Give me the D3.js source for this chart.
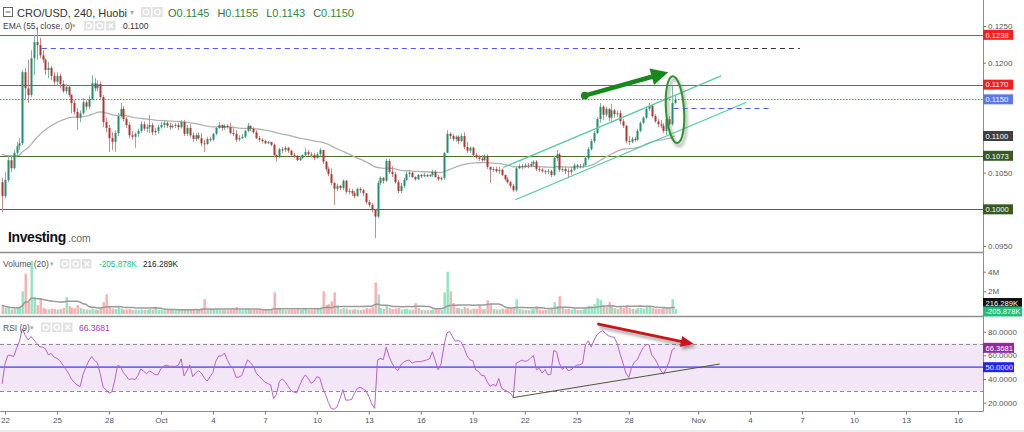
<!DOCTYPE html>
<html><head><meta charset="utf-8">
<script src="https://cdn.jsdelivr.net/npm/d3@7/dist/d3.min.js"></script>
<style>
html,body{margin:0;padding:0;background:#fff;}
svg{display:block;font-family:"Liberation Sans",Arial,sans-serif;}
</style></head><body>
<svg id="chart" width="1024" height="432"></svg>
<script>
// ================= DATA =================
const firstCandleUTC = "2020-09-21T20:00:00Z";
const candleHours = 4;
const firstOpen = 0.1037;
const closes = [0.1018,0.1040,0.1067,0.1056,0.1077,0.1086,0.1090,0.1187,0.1165,0.1156,
0.1206,0.1228,0.1224,0.1210,0.1204,0.1190,0.1193,0.1182,0.1174,0.1182,
0.1171,0.1161,0.1167,0.1156,0.1145,0.1133,0.1125,0.1131,0.1146,0.1140,
0.1150,0.1172,0.1165,0.1171,0.1153,0.1119,0.1111,0.1097,0.1092,0.1104,
0.1127,0.1137,0.1123,0.1115,0.1101,0.1099,0.1103,0.1107,0.1116,0.1110,
0.1112,0.1115,0.1105,0.1107,0.1112,0.1115,0.1118,0.1114,0.1112,0.1114,
0.1115,0.1112,0.1119,0.1103,0.1111,0.1101,0.1096,0.1101,0.1097,0.1090,
0.1089,0.1096,0.1095,0.1103,0.1111,0.1115,0.1111,0.1114,0.1112,0.1104,
0.1103,0.1095,0.1097,0.1099,0.1107,0.1114,0.1110,0.1105,0.1097,0.1095,
0.1093,0.1090,0.1092,0.1088,0.1074,0.1071,0.1082,0.1081,0.1084,0.1080,
0.1074,0.1073,0.1067,0.1070,0.1074,0.1078,0.1075,0.1074,0.1070,0.1075,
0.1081,0.1065,0.1055,0.1048,0.1036,0.1028,0.1032,0.1029,0.1039,0.1024,
0.1025,0.1022,0.1018,0.1028,0.1026,0.1022,0.1010,0.1006,0.0999,0.0990,
0.1036,0.1043,0.1039,0.1066,0.1051,0.1048,0.1037,0.1025,0.1032,0.1040,
0.1048,0.1050,0.1044,0.1041,0.1047,0.1045,0.1047,0.1045,0.1047,0.1051,
0.1044,0.1041,0.1043,0.1077,0.1103,0.1100,0.1096,0.1099,0.1093,0.1100,
0.1085,0.1080,0.1084,0.1074,0.1071,0.1069,0.1067,0.1073,0.1058,0.1054,
0.1055,0.1052,0.1054,0.1047,0.1041,0.1037,0.1032,0.1026,0.1056,0.1059,
0.1058,0.1060,0.1059,0.1062,0.1065,0.1055,0.1054,0.1052,0.1051,0.1052,
0.1047,0.1070,0.1075,0.1054,0.1055,0.1052,0.1051,0.1054,0.1060,0.1058,
0.1059,0.1060,0.1070,0.1082,0.1093,0.1104,0.1123,0.1140,0.1129,0.1137,
0.1125,0.1135,0.1130,0.1131,0.1120,0.1114,0.1093,0.1092,0.1096,0.1095,
0.1107,0.1118,0.1125,0.1137,0.1141,0.1127,0.1120,0.1116,0.1114,0.1107,
0.1123,0.1116,0.1145,0.1150];
const highs = [0.1043,0.1051,0.1074,0.1074,0.1081,0.1092,0.1097,0.1190,0.1193,0.1204,
0.1217,0.1238,0.1249,0.1234,0.1217,0.1206,0.1201,0.1195,0.1187,0.1187,
0.1185,0.1176,0.1171,0.1170,0.1157,0.1149,0.1138,0.1135,0.1152,0.1149,
0.1155,0.1183,0.1179,0.1176,0.1174,0.1156,0.1125,0.1115,0.1105,0.1108,
0.1131,0.1145,0.1141,0.1126,0.1119,0.1107,0.1105,0.1110,0.1120,0.1120,
0.1116,0.1129,0.1118,0.1111,0.1115,0.1119,0.1122,0.1120,0.1118,0.1116,
0.1118,0.1118,0.1122,0.1122,0.1115,0.1116,0.1105,0.1104,0.1105,0.1104,
0.1095,0.1099,0.1099,0.1104,0.1112,0.1119,0.1116,0.1116,0.1116,0.1118,
0.1111,0.1108,0.1101,0.1103,0.1108,0.1118,0.1114,0.1112,0.1108,0.1100,
0.1097,0.1095,0.1093,0.1092,0.1090,0.1075,0.1084,0.1085,0.1086,0.1085,
0.1081,0.1077,0.1074,0.1073,0.1075,0.1084,0.1081,0.1078,0.1077,0.1078,
0.1084,0.1081,0.1066,0.1058,0.1056,0.1037,0.1035,0.1033,0.1041,0.1040,
0.1029,0.1028,0.1025,0.1030,0.1030,0.1028,0.1022,0.1013,0.1009,0.1000,
0.1039,0.1045,0.1044,0.1069,0.1069,0.1059,0.1051,0.1040,0.1036,0.1043,
0.1051,0.1054,0.1051,0.1045,0.1048,0.1048,0.1050,0.1048,0.1048,0.1054,
0.1054,0.1047,0.1045,0.1078,0.1108,0.1105,0.1103,0.1101,0.1101,0.1103,
0.1105,0.1092,0.1086,0.1085,0.1077,0.1074,0.1074,0.1075,0.1075,0.1058,
0.1058,0.1058,0.1058,0.1056,0.1047,0.1044,0.1039,0.1035,0.1059,0.1062,
0.1062,0.1063,0.1063,0.1065,0.1067,0.1067,0.1058,0.1056,0.1054,0.1055,
0.1054,0.1073,0.1081,0.1077,0.1059,0.1058,0.1056,0.1058,0.1063,0.1062,
0.1062,0.1063,0.1073,0.1085,0.1096,0.1107,0.1126,0.1145,0.1142,0.1140,
0.1138,0.1144,0.1137,0.1135,0.1135,0.1123,0.1115,0.1100,0.1099,0.1099,
0.1110,0.1120,0.1127,0.1140,0.1145,0.1142,0.1130,0.1123,0.1122,0.1118,
0.1126,0.1127,0.1168,0.1155];
const lows = [0.0996,0.1015,0.1037,0.1051,0.1054,0.1073,0.1081,0.1088,0.1149,0.1145,
0.1153,0.1183,0.1204,0.1206,0.1200,0.1183,0.1179,0.1176,0.1170,0.1168,
0.1165,0.1159,0.1157,0.1153,0.1131,0.1129,0.1108,0.1119,0.1129,0.1135,
0.1137,0.1149,0.1161,0.1161,0.1149,0.1112,0.1105,0.1078,0.1081,0.1078,
0.1100,0.1125,0.1120,0.1111,0.1097,0.1095,0.1084,0.1099,0.1104,0.1107,
0.1105,0.1104,0.1101,0.1101,0.1103,0.1110,0.1111,0.1111,0.1108,0.1110,
0.1111,0.1108,0.1110,0.1100,0.1100,0.1099,0.1092,0.1093,0.1095,0.1086,
0.1078,0.1088,0.1092,0.1093,0.1101,0.1110,0.1107,0.1108,0.1110,0.1103,
0.1100,0.1092,0.1093,0.1096,0.1097,0.1105,0.1107,0.1103,0.1096,0.1092,
0.1090,0.1089,0.1089,0.1086,0.1071,0.1065,0.1070,0.1077,0.1078,0.1077,
0.1073,0.1070,0.1066,0.1066,0.1069,0.1071,0.1073,0.1071,0.1067,0.1069,
0.1073,0.1062,0.1052,0.1045,0.1033,0.1006,0.1025,0.1026,0.1026,0.1021,
0.1020,0.1018,0.1015,0.1017,0.1022,0.1018,0.1007,0.1003,0.0996,0.0961,
0.0988,0.1033,0.1035,0.1037,0.1048,0.1044,0.1035,0.1022,0.1022,0.1029,
0.1039,0.1044,0.1043,0.1039,0.1040,0.1043,0.1044,0.1044,0.1044,0.1044,
0.1043,0.1039,0.1039,0.1040,0.1077,0.1096,0.1093,0.1092,0.1089,0.1092,
0.1082,0.1077,0.1077,0.1071,0.1069,0.1066,0.1065,0.1066,0.1055,0.1036,
0.1051,0.1050,0.1048,0.1045,0.1039,0.1035,0.1029,0.1024,0.1024,0.1055,
0.1055,0.1056,0.1056,0.1058,0.1058,0.1052,0.1051,0.1050,0.1048,0.1048,
0.1044,0.1045,0.1066,0.1051,0.1051,0.1048,0.1043,0.1047,0.1052,0.1055,
0.1056,0.1056,0.1058,0.1067,0.1080,0.1090,0.1103,0.1118,0.1122,0.1126,
0.1120,0.1119,0.1125,0.1126,0.1116,0.1111,0.1090,0.1088,0.1090,0.1092,
0.1093,0.1105,0.1116,0.1123,0.1134,0.1125,0.1118,0.1112,0.1111,0.1104,
0.1101,0.1114,0.1114,0.1143];
const volumesK = [600,350,300,150,250,400,350,2000,3800,900,
5100,1400,600,1300,300,200,150,250,200,150,
200,300,1400,500,350,300,600,300,200,150,
150,250,150,100,300,900,1700,500,250,200,
350,250,150,150,200,100,150,100,150,100,
100,200,150,450,100,100,80,100,80,100,
80,100,150,200,100,150,200,150,100,300,
1200,200,150,150,200,100,80,100,80,150,
150,400,100,80,150,200,100,100,150,100,
80,100,80,150,1900,300,250,100,80,100,
150,100,200,100,150,200,100,100,150,200,
300,2000,600,700,1000,1900,600,200,300,250,
150,150,200,150,100,150,300,250,400,2900,
1700,300,200,500,300,200,250,300,150,200,
250,150,150,800,300,100,80,100,80,150,
200,150,100,1900,4000,2000,800,300,300,200,
400,300,150,250,200,600,150,200,1100,700,
200,150,150,250,200,250,300,400,1200,200,
150,100,100,150,200,500,150,100,100,150,
250,900,500,1500,300,200,250,150,200,100,
100,150,300,500,500,700,1300,1100,600,400,
900,600,300,200,400,300,600,300,200,150,
300,300,250,400,500,300,250,200,200,300,
400,300,1200,206];
const rsi9 = [36,53,60,60,59,66,72,82.5,77,73,
76,73,70,67.3,67,65.5,60.5,61.5,58.5,57.5,
55.5,52,48.5,44.7,40,37,35,33.5,43.8,50,
55.3,59,55.7,53.8,44,33,31,28,29,39,
51.5,50.5,45.5,42.5,39.5,40.3,39.4,42.8,48.5,46.7,
44.5,46.8,45.5,43.6,43.7,49,51,51.7,50.7,50.8,
50.7,51.6,57,42.6,47,52,42,45,47,45,
41,38.3,42,45.5,55,59.5,59.5,62,56,51.5,
48.8,41.5,41.7,43,50,56.2,53.8,50.8,45,42.5,
40,37.4,36.2,35,23.5,27,38,40,37.8,34,
30.3,29,28.2,34.5,40,43.5,40.5,36.3,38,42,
41,32.5,27,20,15,14.6,16.5,23.5,31,22.2,
22.2,22.7,28,32,33,31.8,30,25.2,19,15.2,
56.2,57.4,56.4,67,59,53.5,49.5,47,51.8,54.3,
55.5,56,53.4,54.5,54.7,54.7,55.5,56.1,57,63,
55.5,47.8,52.8,68,79,80,75.5,71.8,72.7,71,
66,59.5,56.2,55.5,47.7,46.4,43,42.8,37.5,33.8,
35.5,34,40.5,32,30.8,29.5,28,24.8,53.4,54.6,
56,55,55.5,57.8,60,47.8,49,45,48,43.5,
44,64,63,53,48,50.5,47,47.8,50,51.8,
52,53.3,69,72.3,67,73,77.5,79.6,80.9,78.5,
76.5,75.8,75,70,61,53.5,45,41.3,50,54.5,
56.5,62,66.5,69.3,69,60,57.3,52.5,47.6,44,
49,55,64.5,66.3681];
const emaSeed = 0.1077;      // EMA(55) value just before the first visible candle
const emaLast = 0.1100;      // EMA value shown in legend
const volumeLegend = ["-205.878K", "216.289K"];
const xTickDates = ["2020-09-22","2020-09-25","2020-09-28","2020-10-01","2020-10-04","2020-10-07","2020-10-10","2020-10-13","2020-10-16","2020-10-19","2020-10-22","2020-10-25","2020-10-28","2020-11-01","2020-11-04","2020-11-07","2020-11-10","2020-11-13","2020-11-16"];
const xTickLabels = ["22","25","28","Oct","4","7","10","13","16","19","22","25","28","Nov","4","7","10","13","16"];
const priceTicks = [0.095,0.100,0.105,0.110,0.115,0.120,0.125];
const volumeTicks = [2000,4000];
const rsiTicks = [20,40,60,80];
const levelPrices = [0.1238,0.1170,0.1150,0.1073,0.1000];
const levelKinds = ["red","red","blue","green","green"];
// drawings (time, value)
const targetDashed = [["2020-09-24T03:00:00Z",0.1220],["2020-10-26T08:00:00Z",0.1220],["2020-11-06T21:00:00Z",0.1220]];
const shortDashed = [["2020-10-30T14:00:00Z",0.1138],["2020-11-05T02:00:00Z",0.1138]];
const channelUpper = [["2020-10-20T18:00:00Z",0.1057],["2020-11-02T08:00:00Z",0.1182]];
const channelLower = [["2020-10-21T11:00:00Z",0.1013],["2020-11-03T19:00:00Z",0.1146]];
const trendArrow = [["2020-10-25T11:00:00Z",0.1155],["2020-10-30T06:30:00Z",0.1187]];
const ellipseCenter = ["2020-10-30T16:00:00Z",0.1136];
const rsiArrow = [["2020-10-26T06:00:00Z",86.5],["2020-10-31T18:00:00Z",69.6]];
const rsiTrend = [["2020-10-21T07:00:00Z",24.2],["2020-11-02T06:00:00Z",52.7]];

// ================= BUILD =================
const svg = d3.select("#chart");
const R = 983; // right edge of plots
const x = d3.scaleUtc().domain([new Date("2020-09-22T00:00:00Z"), new Date("2020-11-16T00:00:00Z")]).range([5, 958]);
const yP = d3.scaleLinear().domain([0.095, 0.125]).range([246, 26]);
const yV = d3.scaleLinear().domain([0, 4000]).range([311, 271.7]);
const yR = d3.scaleLinear().domain([20, 80]).range([402.7, 331.7]);
const T = s => new Date(s);

const t0 = Date.parse(firstCandleUTC);
const candles = closes.map((c, i) => ({
  t: new Date(t0 + i * candleHours * 3600e3),
  o: i ? closes[i - 1] : firstOpen, h: highs[i], l: lows[i], c, v: volumesK[i], r: rsi9[i]
}));
// EMA(55, close)
let e = emaSeed; const k = 2 / 56;
candles.forEach(d => { e = e + (d.c - e) * k; d.ema = e; });
// Volume MA(20)
candles.forEach((d, i) => { const s = candles.slice(Math.max(0, i - 19), i + 1); d.vma = d3.mean(s, q => q.v); });

const defs = svg.append("defs");
defs.append("filter").attr("id", "blur").attr("x", "-50%").attr("y", "-50%").attr("width", "200%").attr("height", "200%")
  .append("feGaussianBlur").attr("stdDeviation", 1.8);
[["clipP", 0, 0, R, 252], ["clipV", 0, 253, R, 63], ["clipR", 0, 317, R, 94]].forEach(([id, a, b, w, h]) =>
  defs.append("clipPath").attr("id", id).append("rect").attr("x", a).attr("y", b).attr("width", w).attr("height", h));

// ---------- PRICE PANEL ----------
const gP = svg.append("g").attr("clip-path", "url(#clipP)");
const levelColor = { red: "#e23a3a", blue: "#5d74e8", green: "#4c6e34" };
levelPrices.forEach((p, i) => {
  const y = Math.round(yP(p)) + 0.5;
  gP.append("line").attr("x1", 0).attr("x2", R).attr("y1", y).attr("y2", y)
    .attr("stroke", levelColor[levelKinds[i]]).attr("stroke-width", 1)
    .attr("stroke-dasharray", levelKinds[i] === "blue" ? "1.5,1.5" : null);
});
// dashed target line
const tdY = Math.round(yP(targetDashed[0][1])) + 0.5;
gP.append("line").attr("x1", x(T(targetDashed[0][0]))).attr("x2", x(T(targetDashed[1][0]))).attr("y1", tdY).attr("y2", tdY)
  .attr("stroke", "#4a5df0").attr("stroke-width", 1.2).attr("stroke-dasharray", "5,4");
gP.append("line").attr("x1", x(T(targetDashed[1][0]))).attr("x2", x(T(targetDashed[2][0]))).attr("y1", tdY).attr("y2", tdY)
  .attr("stroke", "#333").attr("stroke-width", 1).attr("stroke-dasharray", "5,4");

// EMA line
gP.append("path").datum(candles).attr("fill", "none").attr("stroke", "#b0b0b0").attr("stroke-width", 1.3)
  .attr("d", d3.line().x(d => x(d.t)).y(d => yP(d.ema)));

// Candles
const upC = "#21906a", dnC = "#b2362f", upW = "#80b7a4", dnW = "#bf8f8b";
const cg = gP.append("g");
candles.forEach(d => {
  const up = d.c >= d.o;
  const cx = Math.round(x(d.t));
  cg.append("line").attr("x1", cx + 0.5).attr("x2", cx + 0.5).attr("y1", yP(d.h)).attr("y2", yP(d.l))
    .attr("stroke", up ? upW : dnW).attr("stroke-width", 1);
  const top = yP(Math.max(d.o, d.c)), bot = yP(Math.min(d.o, d.c));
  cg.append("rect").attr("x", cx - 0.5).attr("width", 2).attr("y", top).attr("height", Math.max(1, bot - top))
    .attr("fill", up ? upC : dnC);
});

// channel
[channelUpper, channelLower].forEach(ln => {
  gP.append("line").attr("x1", x(T(ln[0][0]))).attr("y1", yP(ln[0][1])).attr("x2", x(T(ln[1][0]))).attr("y2", yP(ln[1][1]))
    .attr("stroke", "#52c9a8").attr("stroke-width", 1.2);
});
// short dashed
const sdY = Math.round(yP(shortDashed[0][1])) + 0.5;
gP.append("line").attr("x1", x(T(shortDashed[0][0]))).attr("x2", x(T(shortDashed[1][0]))).attr("y1", sdY).attr("y2", sdY)
  .attr("stroke", "#4a5df0").attr("stroke-width", 1.2).attr("stroke-dasharray", "5,4");

// ellipse with shadow
const ex = x(T(ellipseCenter[0])), ey = yP(ellipseCenter[1]);
gP.append("ellipse").attr("cx", ex + 2).attr("cy", ey + 3).attr("rx", 9).attr("ry", 33.5).attr("fill", "none")
  .attr("stroke", "#777").attr("stroke-width", 2.5).attr("opacity", 0.6).attr("filter", "url(#blur)")
  .attr("transform", `rotate(-4 ${ex + 2} ${ey + 3})`);
gP.append("ellipse").attr("cx", ex).attr("cy", ey).attr("rx", 9).attr("ry", 33.5).attr("fill", "none")
  .attr("stroke", "#2c952c").attr("stroke-width", 2).attr("transform", `rotate(-4 ${ex} ${ey})`);

// arrow helper
function arrow(g, x1, y1, x2, y2, color, w, hl, hw, dot, shadow) {
  const dx = x2 - x1, dy = y2 - y1, L = Math.hypot(dx, dy), ux = dx / L, uy = dy / L, px = -uy, py = ux;
  const bx = x2 - ux * hl, by = y2 - uy * hl;
  const draw = (gg, off, col, op, filt) => {
    const s = gg.append("g").attr("transform", `translate(${off[0]},${off[1]})`).attr("opacity", op);
    if (filt) s.attr("filter", filt);
    s.append("line").attr("x1", x1).attr("y1", y1).attr("x2", bx + ux * 1).attr("y2", by + uy * 1)
      .attr("stroke", col).attr("stroke-width", w).attr("stroke-linecap", "round");
    s.append("polygon").attr("points", [[x2, y2], [bx + px * hw, by + py * hw], [bx - px * hw, by - py * hw]].map(p => p.join(",")).join(" "))
      .attr("fill", col);
    if (dot) s.append("circle").attr("cx", x1).attr("cy", y1).attr("r", dot).attr("fill", col);
  };
  if (shadow) draw(g, [2, 3], "#555", 0.55, "url(#blur)");
  draw(g, [0, 0], color, 1, null);
}
arrow(gP, x(T(trendArrow[0][0])), yP(trendArrow[0][1]), x(T(trendArrow[1][0])), yP(trendArrow[1][1]), "#16891b", 4.5, 17, 8.5, 3.8, false);

// Investing logo
svg.append("text").attr("x", 8).attr("y", 242).attr("font-size", 14).attr("font-weight", "bold").attr("fill", "#111")
  .attr("letter-spacing", -0.4).text("Investing");
svg.append("text").attr("x", 68).attr("y", 242).attr("font-size", 10.5).attr("fill", "#666").text(".com");

// ---------- VOLUME PANEL ----------
const gV = svg.append("g").attr("clip-path", "url(#clipV)");
candles.forEach(d => {
  const up = d.c >= d.o;
  const cx = Math.round(x(d.t));
  gV.append("rect").attr("x", cx - 0.5).attr("width", 2.4).attr("y", yV(d.v)).attr("height", yV(0) - yV(d.v) + 3)
    .attr("fill", up ? "#8ee5bf" : "#f8afaf");
});
gV.append("path").datum(candles).attr("fill", "none").attr("stroke", "#9a9a9a").attr("stroke-width", 1.5)
  .attr("d", d3.line().x(d => x(d.t)).y(d => yV(d.vma)));

// ---------- RSI PANEL ----------
const gR = svg.append("g").attr("clip-path", "url(#clipR)");
gR.append("rect").attr("x", 0).attr("width", R).attr("y", yR(70)).attr("height", yR(30) - yR(70)).attr("fill", "#f3e6f6");
[70, 30].forEach(v => gR.append("line").attr("x1", 0).attr("x2", R).attr("y1", Math.round(yR(v)) + 0.5).attr("y2", Math.round(yR(v)) + 0.5)
  .attr("stroke", "#8d8d8d").attr("stroke-dasharray", "4,3"));
gR.append("line").attr("x1", 0).attr("x2", R).attr("y1", yR(50)).attr("y2", yR(50)).attr("stroke", "#6c6cf2").attr("stroke-width", 1.8);
gR.append("path").datum(candles).attr("fill", "none").attr("stroke", "#b762c8").attr("stroke-width", 1)
  .attr("d", d3.line().x(d => x(d.t)).y(d => yR(d.r)));
gR.append("line").attr("x1", x(T(rsiTrend[0][0]))).attr("y1", yR(rsiTrend[0][1])).attr("x2", x(T(rsiTrend[1][0]))).attr("y2", yR(rsiTrend[1][1]))
  .attr("stroke", "#4a5a38").attr("stroke-width", 1);
arrow(svg, x(T(rsiArrow[0][0])), yR(rsiArrow[0][1]), x(T(rsiArrow[1][0])), yR(rsiArrow[1][1]), "#c8151c", 2.8, 13, 5.5, 0, true);

// ---------- FRAMES ----------
const frame = svg.append("g").attr("fill", "none");
frame.append("line").attr("x1", 0).attr("x2", R).attr("y1", 252.5).attr("y2", 252.5).attr("stroke", "#8e8e8e").attr("stroke-width", 1.5);
frame.append("line").attr("x1", 0).attr("x2", R).attr("y1", 316.5).attr("y2", 316.5).attr("stroke", "#8e8e8e").attr("stroke-width", 1.5);
frame.append("line").attr("x1", 0).attr("x2", R + 0.5).attr("y1", 411.5).attr("y2", 411.5).attr("stroke", "#8e8e8e");
frame.append("line").attr("x1", R + 0.5).attr("x2", R + 0.5).attr("y1", 0).attr("y2", 411.5).attr("stroke", "#8e8e8e");
svg.append("rect").attr("x", 0).attr("y", 430).attr("width", 1024).attr("height", 2).attr("fill", "#ececec");

// ---------- AXES ----------
const fmt4 = d3.format(".4f");
const boxedPrices = new Set(levelPrices.concat([emaLast]).map(fmt4));
function styleAxis(g) {
  g.select(".domain").remove();
  g.selectAll("text").attr("fill", "#555").attr("font-size", 8).attr("font-family", '"Liberation Sans",Arial,sans-serif');
  g.selectAll("line").attr("stroke", "#777");
}
// price labels hidden under the value boxes are left blank (the boxes cover them in the chart)
svg.append("g").attr("transform", `translate(${R},0)`)
  .call(d3.axisRight(yP).tickValues(priceTicks).tickFormat(d => boxedPrices.has(fmt4(d)) ? "" : fmt4(d)).tickSize(3).tickPadding(2)).call(styleAxis);
svg.append("g").attr("transform", `translate(${R},0)`)
  .call(d3.axisRight(yV).tickValues(volumeTicks).tickFormat(d => (d / 1000) + "M").tickSize(3).tickPadding(2)).call(styleAxis);
svg.append("g").attr("transform", `translate(${R},0)`)
  .call(d3.axisRight(yR).tickValues(rsiTicks).tickFormat(d3.format(".4f")).tickSize(3).tickPadding(2)).call(styleAxis);
svg.append("g").attr("transform", `translate(0,411.5)`)
  .call(d3.axisBottom(x).tickValues(xTickDates.map(s => new Date(s + "T00:00:00Z"))).tickFormat((d, i) => xTickLabels[i]).tickSize(3).tickPadding(3))
  .call(styleAxis);

// ---------- VALUE BOXES ----------
function box(y, txt, fill, w) {
  svg.append("rect").attr("x", R).attr("y", y - 5).attr("width", w).attr("height", 10).attr("fill", fill);
  svg.append("text").attr("x", R + 2.5).attr("y", y + 2.8).attr("fill", "#fff").attr("font-size", 7.6).text(txt);
}
const boxFill = { red: "#f31f1f", blue: "#5a79e6", green: "#365b21" };
levelPrices.forEach((p, i) => box(yP(p), fmt4(p), boxFill[levelKinds[i]], 30));
box(yP(emaLast), fmt4(emaLast), "#3f3f3f", 30);
box(yV(0) - 8, volumeLegend[1], "#111", 39);
box(yV(0) + 0.5, volumeLegend[0], "#1fbf7a", 39);
box(yR(rsi9[rsi9.length - 1]), fmt4(rsi9[rsi9.length - 1]), "#93279f", 31);
box(yR(50), fmt4(50), "#2323ee", 31);

// ---------- LEGENDS ----------
function icons(x0, y0, n, s) {
  for (let i = 0; i < n; i++) {
    const gx = x0 + i * (s + 1.5);
    svg.append("rect").attr("x", gx).attr("y", y0).attr("width", s).attr("height", s).attr("fill", "#e2e2e2");
    if (i === n - 1 && n === 3) {
      svg.append("path").attr("d", `M${gx + 2.5},${y0 + 2.5}L${gx + s - 2.5},${y0 + s - 2.5}M${gx + s - 2.5},${y0 + 2.5}L${gx + 2.5},${y0 + s - 2.5}`)
        .attr("stroke", "#fff").attr("stroke-width", 1.3);
    } else {
      svg.append("circle").attr("cx", gx + s / 2).attr("cy", y0 + s / 2).attr("r", s * 0.27).attr("fill", "none").attr("stroke", "#fff").attr("stroke-width", 1.3);
    }
  }
}
const last = candles[candles.length - 1];
// title
svg.append("rect").attr("x", 3.5).attr("y", 7.5).attr("width", 9).attr("height", 9).attr("fill", "none").attr("stroke", "#666");
svg.append("line").attr("x1", 5.5).attr("x2", 10.5).attr("y1", 12).attr("y2", 12).attr("stroke", "#666");
svg.append("text").attr("x", 17).attr("y", 16.5).attr("font-size", 11).attr("fill", "#333").text("CRO/USD, 240, Huobi");
svg.append("text").attr("x", 130).attr("y", 15).attr("font-size", 8).attr("fill", "#aaa").text("▾");
icons(141, 7, 2, 10);
const ohlc = [["O", last.o], ["H", last.h], ["L", last.l], ["C", last.c]];
const tOHLC = svg.append("text").attr("x", 168).attr("y", 16.5).attr("font-size", 11);
ohlc.forEach(([lab, v], i) => {
  tOHLC.append("tspan").attr("fill", "#3d6b3d").attr("dx", i ? 8 : 0).text(lab);
  tOHLC.append("tspan").attr("fill", "#2f8a3a").text(fmt4(v));
});
// EMA legend
svg.append("text").attr("x", 3).attr("y", 29).attr("font-size", 8.5).attr("fill", "#444").text("EMA (55, close, 0)");
svg.append("text").attr("x", 72).attr("y", 28).attr("font-size", 7).attr("fill", "#aaa").text("▾");
icons(84, 21, 3, 9.5);
svg.append("text").attr("x", 123).attr("y", 29).attr("font-size", 8.5).attr("fill", "#333").text(fmt4(emaLast));
// Volume legend
svg.append("text").attr("x", 3).attr("y", 266.5).attr("font-size", 8.5).attr("fill", "#555").text("Volume (20)");
svg.append("text").attr("x", 50).attr("y", 265.5).attr("font-size", 7).attr("fill", "#aaa").text("▾");
icons(60, 259, 3, 9.5);
svg.append("text").attr("x", 99).attr("y", 266.5).attr("font-size", 8.2).attr("fill", "#22c07e").text(volumeLegend[0]);
svg.append("text").attr("x", 143).attr("y", 266.5).attr("font-size", 8.2).attr("fill", "#222").text(volumeLegend[1]);
// RSI legend
svg.append("text").attr("x", 3).attr("y", 330.5).attr("font-size", 8.5).attr("fill", "#555").text("RSI (9)");
svg.append("text").attr("x", 30).attr("y", 329.5).attr("font-size", 7).attr("fill", "#aaa").text("▾");
icons(41, 322.5, 3, 9.5);
svg.append("text").attr("x", 79).attr("y", 330.5).attr("font-size", 8.5).attr("fill", "#a03cb4").text(fmt4(rsi9[rsi9.length - 1]));
</script>
</body></html>
